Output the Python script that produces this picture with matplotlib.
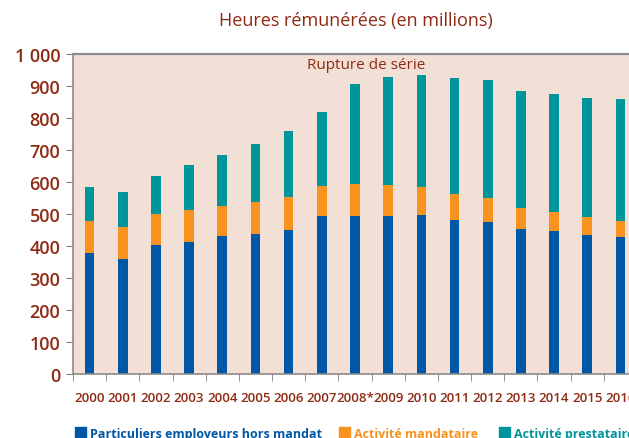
import matplotlib
matplotlib.use("Agg")
import matplotlib.pyplot as plt
import numpy as np
from matplotlib.patches import Rectangle

# data (millions of hours)
years = ["2000", "2001", "2002", "2003", "2004", "2005", "2006", "2007", "2008*",
         "2009", "2010", "2011", "2012", "2013", "2014", "2015", "2016"]
hors_mandat = [378, 359, 403, 412, 431, 437, 450, 494, 494, 494, 497, 481, 475, 453, 447, 434, 428]
mandataire = [100, 100, 97, 100, 94, 100, 103, 95, 100, 97, 88, 81, 75, 66, 59, 57, 50]
prestataire = [106, 109, 119, 141, 159, 182, 206, 231, 313, 337, 349, 363, 369, 365, 369, 371, 381]

c_blue = "#0057A6"
c_orange = "#F7931E"
c_teal = "#00959B"
c_text = "#8E2A13"
c_bg = "#F2DFD5"

plt.rcParams["font.family"] = ["Open Sans", "DejaVu Sans"]

fig = plt.figure(figsize=(6.29, 4.39), dpi=100)
ax = fig.add_axes([73 / 629, 64 / 439, 564 / 629, 320 / 439])
ax.set_facecolor(c_bg)

x = np.arange(len(years))
w = 0.29
ax.bar(x, hors_mandat, w, color=c_blue, zorder=2)
ax.bar(x, mandataire, w, bottom=hors_mandat, color=c_orange, zorder=2)
bottom2 = np.array(hors_mandat) + np.array(mandataire)
ax.bar(x, prestataire, w, bottom=bottom2, color=c_teal, zorder=2)

ax.set_xlim(-0.5, len(years) - 0.5)
ax.set_ylim(0, 1000)
ax.set_yticks(range(0, 1001, 100))
ax.set_yticklabels(["0", "100", "200", "300", "400", "500", "600", "700", "800", "900", "1 000"],
                   fontsize=13, color=c_text, fontweight="semibold")
ax.set_xticks(x)
ax.set_xticklabels(years, fontsize=9.5, color=c_text, fontweight="semibold")
ax.set_xticks(np.arange(-0.5, len(years), 1), minor=True)
ax.tick_params(axis="x", which="major", length=0, pad=12)
ax.tick_params(axis="x", which="minor", length=5, color="#7F7F7F", direction="out")
ax.tick_params(axis="y", length=5, color="#7F7F7F", pad=4)

for side in ["left", "bottom", "top", "right"]:
    ax.spines[side].set_color("#8A8A8A")
ax.spines["top"].set_linewidth(1.6)
ax.spines["left"].set_linewidth(1.2)
ax.spines["bottom"].set_linewidth(1.2)

ax.text(8.35, 968, "Rupture de série", color=c_text, fontsize=11,
        ha="center", va="center")

fig.text(356 / 629, 1 - 21 / 439, "Heures rémunérées (en millions)", color=c_text,
         fontsize=13, ha="center", va="center")

# legend drawn by hand along the bottom edge
legend_items = [("Particuliers employeurs hors mandat", c_blue, 75),
                ("Activité mandataire", c_orange, 339),
                ("Activité prestataire", c_teal, 499)]
for label, col, px in legend_items:
    fig.patches.append(Rectangle((px / 629, 0), 11 / 629, 11 / 439, color=col,
                                 transform=fig.transFigure, figure=fig))
    fig.text((px + 15) / 629, 4 / 439, label, color=col, fontsize=9,
             fontweight="bold", ha="left", va="center")

fig.savefig("out.png", dpi=100)
